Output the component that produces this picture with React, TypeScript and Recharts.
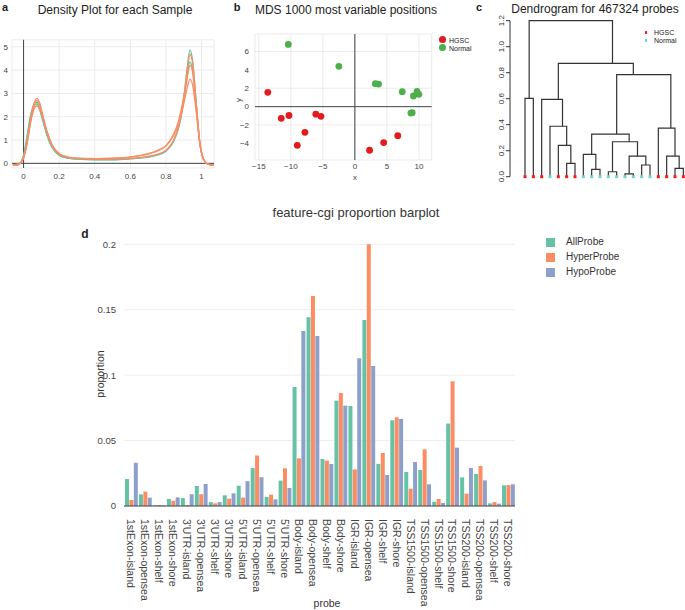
import React from 'react';
import {
  LineChart,
  Line,
  XAxis,
  YAxis,
  CartesianGrid,
  ReferenceLine,
  ScatterChart,
  Scatter,
  ComposedChart,
  BarChart,
  Bar,
} from 'recharts';

const FONT = '"Liberation Sans", Arial, Helvetica, sans-serif';

// ---- panel a: density per sample ----
const densX = [-0.06, -0.03, 0, 0.02, 0.04, 0.06, 0.075, 0.09, 0.11, 0.13, 0.16, 0.2, 0.25, 0.3, 0.4, 0.5, 0.6, 0.7, 0.75, 0.8, 0.84, 0.87, 0.9, 0.92, 0.935, 0.95, 0.97, 0.99, 1.01, 1.04, 1.07];
const normal1 = [-0.07, -0.05, 0.35, 1.2, 2.1, 2.55, 2.62, 2.35, 1.8, 1.25, 0.68, 0.34, 0.22, 0.18, 0.15, 0.15, 0.19, 0.27, 0.35, 0.52, 0.9, 1.5, 2.8, 4.15, 4.87, 4.4, 2.6, 0.9, 0.2, -0.04, -0.07];
const normal2 = [-0.07, -0.05, 0.3, 1.1, 2.0, 2.45, 2.55, 2.3, 1.78, 1.25, 0.7, 0.36, 0.23, 0.19, 0.16, 0.16, 0.2, 0.28, 0.36, 0.54, 0.92, 1.5, 2.65, 3.75, 4.35, 4.0, 2.5, 0.9, 0.2, -0.04, -0.07];
const hgsc1 = [-0.07, -0.05, 0.25, 0.95, 1.9, 2.6, 2.79, 2.6, 2.0, 1.4, 0.78, 0.4, 0.26, 0.21, 0.18, 0.18, 0.21, 0.3, 0.38, 0.56, 0.95, 1.55, 2.8, 4.0, 4.68, 4.3, 2.6, 0.95, 0.22, -0.04, -0.07];
const hgsc2 = [-0.07, -0.05, 0.22, 0.85, 1.75, 2.35, 2.46, 2.35, 1.9, 1.4, 0.8, 0.42, 0.27, 0.22, 0.2, 0.22, 0.28, 0.42, 0.55, 0.76, 1.2, 1.8, 2.85, 3.7, 4.2, 3.9, 2.4, 0.9, 0.2, -0.04, -0.07];
const hgsc3 = [-0.07, -0.05, 0.25, 0.9, 1.85, 2.5, 2.69, 2.5, 1.95, 1.38, 0.78, 0.4, 0.26, 0.21, 0.19, 0.21, 0.27, 0.4, 0.52, 0.74, 1.15, 1.65, 2.55, 3.25, 3.61, 3.35, 2.2, 0.85, 0.2, -0.04, -0.07];

// ---- panel b: MDS ----
const hgscX = [-13.6, -11.5, -10.3, -7.8, -9.0, -6.1, -5.3, 2.3, 4.5, 6.7];
const hgscY = [1.56, -1.27, -0.96, -2.79, -4.2, -0.82, -1.05, -4.74, -3.9, -3.15];
const normX = [-10.4, -2.5, 3.2, 3.7, 7.4, 9.7, 10.0, 9.15, 8.75, 8.95];
const normY = [6.77, 4.38, 2.5, 2.46, 1.63, 1.66, 1.34, 1.16, -0.7, -0.65];

// ---- panel c: dendrogram (hclust style merges, negative = leaf) ----
const leafGroups = ['HGSC', 'HGSC', 'HGSC', 'Normal', 'HGSC', 'HGSC', 'HGSC', 'Normal', 'Normal', 'Normal', 'Normal', 'Normal', 'Normal', 'Normal', 'Normal', 'Normal', 'HGSC', 'HGSC', 'HGSC', 'HGSC'];
const dendroMerges: [number, number, number][] = [
  [-6, -7, 0.103],
  [-5, 1, 0.241],
  [-4, 2, 0.388],
  [-3, 3, 0.595],
  [-1, -2, 0.603],
  [-9, -10, 0.057],
  [-8, 6, 0.172],
  [-11, -12, 0.038],
  [-13, -14, 0.021],
  [-15, -16, 0.09],
  [9, 10, 0.159],
  [8, 11, 0.269],
  [7, 12, 0.328],
  [-19, -20, 0.064],
  [-18, 14, 0.159],
  [-17, 15, 0.374],
  [13, 16, 0.785],
  [4, 17, 0.872],
  [5, 18, 1.2],
];

// ---- panel d: feature-cgi proportions ----
const probes = ['1stExon-island', '1stExon-opensea', '1stExon-shelf', '1stExon-shore', "3'UTR-island", "3'UTR-opensea", "3'UTR-shelf", "3'UTR-shore", "5'UTR-island", "5'UTR-opensea", "5'UTR-shelf", "5'UTR-shore", 'Body-island', 'Body-opensea', 'Body-shelf', 'Body-shore', 'IGR-island', 'IGR-opensea', 'IGR-shelf', 'IGR-shore', 'TSS1500-island', 'TSS1500-opensea', 'TSS1500-shelf', 'TSS1500-shore', 'TSS200-island', 'TSS200-opensea', 'TSS200-shelf', 'TSS200-shore'];
const allProbe = [0.0206, 0.0089, 0.0005, 0.0054, 0.0061, 0.0153, 0.003, 0.0082, 0.0155, 0.029, 0.0069, 0.0194, 0.091, 0.1442, 0.0359, 0.0805, 0.0764, 0.1422, 0.0322, 0.0655, 0.026, 0.0275, 0.0033, 0.063, 0.0219, 0.0245, 0.002, 0.0158];
const hyperProbe = [0.0046, 0.011, 0.0008, 0.004, 0.0008, 0.009, 0.002, 0.0056, 0.0064, 0.0385, 0.0087, 0.0288, 0.0364, 0.1605, 0.0347, 0.0864, 0.028, 0.2, 0.0405, 0.0678, 0.0132, 0.0433, 0.0054, 0.0953, 0.0094, 0.0306, 0.003, 0.016];
const hypoProbe = [0.033, 0.0064, 0.0005, 0.0066, 0.009, 0.0168, 0.003, 0.0097, 0.019, 0.022, 0.0051, 0.0138, 0.1338, 0.13, 0.0321, 0.0767, 0.1129, 0.107, 0.0237, 0.0665, 0.0336, 0.0166, 0.0023, 0.0446, 0.029, 0.0196, 0.0018, 0.0166];

const GREEN = '#66c2a5';
const ORANGE = '#fc8d62';
const BLUE = '#8da0cb';

const densRows = densX.map((x, i) => ({ x, n1: normal1[i], n2: normal2[i], h1: hgsc1[i], h2: hgsc2[i], h3: hgsc3[i] }));
const hgscPts = hgscX.map((x, i) => ({ x, y: hgscY[i] }));
const normPts = normX.map((x, i) => ({ x, y: normY[i] }));
const barRows = probes.map((probe, i) => ({ probe, all: allProbe[i], hyper: hyperProbe[i], hypo: hypoProbe[i] }));

// build dendrogram segments, node x = centre of its leaves
type DNode = { lo: number; hi: number; h: number };
const dNodes: DNode[] = [];
const nodeOf = (id: number): DNode => (id < 0 ? { lo: -id, hi: -id, h: 0 } : dNodes[id - 1]);
const dendroSegs = dendroMerges.map(([a, b, h]) => {
  const A = nodeOf(a);
  const B = nodeOf(b);
  dNodes.push({ lo: Math.min(A.lo, B.lo), hi: Math.max(A.hi, B.hi), h });
  const xa = (A.lo + A.hi) / 2;
  const xb = (B.lo + B.hi) / 2;
  return [
    { x: xa, y: A.h },
    { x: xa, y: h },
    { x: xb, y: h },
    { x: xb, y: B.h },
  ];
});
const leafRows = leafGroups.map((g, i) => ({ x: i + 1, y: 0, g }));

type TxtProps = { x: number; y: number; size: number; children: React.ReactNode; bold?: boolean; rotate?: number; color?: string; anchor?: 'start' | 'middle' };
const Txt = ({ x, y, size, children, bold, rotate = 0, color = '#222', anchor = 'middle' }: TxtProps) => (
  <div
    style={{
      position: 'absolute',
      left: x,
      top: y,
      fontSize: size,
      fontWeight: bold ? 'bold' : 'normal',
      color,
      lineHeight: 1,
      whiteSpace: 'nowrap',
      transform: `translate(${anchor === 'middle' ? '-50%' : '0'}, -50%) rotate(${rotate}deg)`,
      transformOrigin: anchor === 'middle' ? 'center' : 'left center',
    }}
  >
    {children}
  </div>
);

const ProbeTick = (props: any) => {
  const { x, y, payload } = props;
  return (
    <text x={x} y={y} dy="0.35em" transform={`rotate(90, ${x}, ${y})`} fontSize={10.5} fill="#444" fontFamily={FONT}>
      {payload.value}
    </text>
  );
};

const HeightTick = (props: any) => {
  const { x, y, payload } = props;
  return (
    <text x={x} y={y} transform={`rotate(-90, ${x}, ${y})`} textAnchor="middle" fontSize={8} fill="#333" fontFamily={FONT}>
      {Number(payload.value).toFixed(1)}
    </text>
  );
};

const LeafDot = (props: any) => {
  const { cx, cy, payload } = props;
  return <rect x={cx - 1.5} y={cy - 1.5} width={3} height={3} fill={payload.g === 'HGSC' ? '#ff1a1a' : '#6fd6cf'} />;
};

const minusFmt = (v: number) => (v < 0 ? '\u2212' + Math.abs(v) : String(v));
const tickStyle = { fontSize: 8, fill: '#444', fontFamily: FONT };

const App = () => {
  return (
    <div style={{ position: 'absolute', left: 0, top: 0, width: 685, height: 610, background: '#fff', fontFamily: FONT, overflow: 'hidden' }}>
      {/* panel a */}
      <div style={{ position: 'absolute', left: 0, top: 0 }}>
        <LineChart width={230} height={190} data={densRows} margin={{ top: 39.8, right: 16, bottom: 0, left: 0 }}>
          <CartesianGrid stroke="#ebebeb" />
          <XAxis type="number" dataKey="x" domain={[-0.065, 1.07]} ticks={[0, 0.2, 0.4, 0.6, 0.8, 1]} allowDataOverflow axisLine={false} tickLine={false} tickSize={0} tickMargin={5} height={22} tick={tickStyle} />
          <YAxis type="number" domain={[-0.2, 5.3]} ticks={[0, 1, 2, 3, 4, 5]} allowDataOverflow width={12} axisLine={false} tickLine={false} tickSize={0} tickMargin={4} tick={tickStyle} />
          <ReferenceLine x={0} stroke="#444" />
          <ReferenceLine y={0} stroke="#444" />
          <Line type="monotone" dataKey="n1" stroke={GREEN} strokeWidth={1.3} dot={false} isAnimationActive={false} />
          <Line type="monotone" dataKey="n2" stroke={GREEN} strokeWidth={1.3} dot={false} isAnimationActive={false} />
          <Line type="monotone" dataKey="h1" stroke={ORANGE} strokeWidth={1.3} dot={false} isAnimationActive={false} />
          <Line type="monotone" dataKey="h2" stroke={ORANGE} strokeWidth={1.3} dot={false} isAnimationActive={false} />
          <Line type="monotone" dataKey="h3" stroke={ORANGE} strokeWidth={1.3} dot={false} isAnimationActive={false} />
        </LineChart>
      </div>
      <Txt x={5} y={7} size={11} bold>a</Txt>
      <Txt x={115} y={10} size={12}>Density Plot for each Sample</Txt>

      {/* panel b */}
      <div style={{ position: 'absolute', left: 225, top: 0 }}>
        <ScatterChart width={230} height={190} margin={{ top: 34, right: 23.3, bottom: 0, left: 0 }}>
          <CartesianGrid stroke="#ebebeb" />
          <XAxis type="number" dataKey="x" domain={[-15.6, 12]} ticks={[-15, -10, -5, 0, 5, 10]} allowDataOverflow axisLine={false} tickLine={false} tickSize={0} tickMargin={3} height={30} tick={tickStyle} tickFormatter={minusFmt} />
          <YAxis type="number" dataKey="y" domain={[-5.8, 7.9]} ticks={[-4, -2, 0, 2, 4, 6]} allowDataOverflow width={30} axisLine={false} tickLine={false} tickSize={0} tickMargin={6} tick={tickStyle} tickFormatter={minusFmt} />
          <ReferenceLine x={0} stroke="#444" />
          <ReferenceLine y={0} stroke="#444" />
          <Scatter data={hgscPts} fill="#e41a1c" shape={(p: any) => <circle cx={p.cx} cy={p.cy} r={3.4} fill="#e41a1c" />} isAnimationActive={false} />
          <Scatter data={normPts} fill="#4daf4a" shape={(p: any) => <circle cx={p.cx} cy={p.cy} r={3.4} fill="#4daf4a" />} isAnimationActive={false} />
        </ScatterChart>
      </div>
      <Txt x={237} y={7} size={11} bold>b</Txt>
      <Txt x={346} y={10} size={12}>MDS 1000 most variable positions</Txt>
      <Txt x={355} y={178} size={8} color="#444">x</Txt>
      <Txt x={239} y={100} size={8} color="#444" rotate={-90}>y</Txt>
      <div style={{ position: 'absolute', left: 439, top: 36, width: 7, height: 7, borderRadius: 4, background: '#e41a1c' }} />
      <div style={{ position: 'absolute', left: 439, top: 44, width: 7, height: 7, borderRadius: 4, background: '#4daf4a' }} />
      <Txt x={449} y={39.5} size={7} anchor="start">HGSC</Txt>
      <Txt x={449} y={47.5} size={7} anchor="start">Normal</Txt>

      {/* panel c */}
      <div style={{ position: 'absolute', left: 455, top: 0 }}>
        <ComposedChart width={230} height={190} margin={{ top: 20.7, right: 0, bottom: 13.3, left: 0 }}>
          <XAxis type="number" dataKey="x" domain={[-0.8, 20.2]} hide allowDataOverflow />
          <YAxis type="number" domain={[0, 1.2]} ticks={[0, 0.2, 0.4, 0.6, 0.8, 1.0, 1.2]} width={55} axisLine={{ stroke: '#333' }} tickLine={{ stroke: '#333' }} tickSize={4} tickMargin={2} tick={<HeightTick />} />
          {dendroSegs.map((seg, i) => (
            <Line key={i} data={seg} dataKey="y" type="linear" stroke="#333" strokeWidth={1.2} dot={false} activeDot={false} isAnimationActive={false} />
          ))}
          <Scatter data={leafRows} dataKey="y" shape={<LeafDot />} isAnimationActive={false} />
        </ComposedChart>
      </div>
      <Txt x={479} y={7} size={11} bold>c</Txt>
      <Txt x={595} y={9} size={12}>Dendrogram for 467324 probes</Txt>
      <div style={{ position: 'absolute', left: 644.5, top: 31, width: 2.5, height: 2.5, background: '#ff1a1a' }} />
      <div style={{ position: 'absolute', left: 644.5, top: 39, width: 2.5, height: 2.5, background: '#6fd6cf' }} />
      <Txt x={654} y={32.3} size={7} anchor="start">HGSC</Txt>
      <Txt x={654} y={40.3} size={7} anchor="start">Normal</Txt>

      {/* panel d */}
      <div style={{ position: 'absolute', left: 0, top: 0 }}>
        <BarChart width={685} height={610} data={barRows} margin={{ top: 244.3, right: 170, bottom: 0, left: 0 }} barCategoryGap={1} barGap={0.4}>
          <CartesianGrid vertical={false} stroke="#eeeeee" />
          <XAxis dataKey="probe" interval={0} height={104} axisLine={{ stroke: '#444' }} tickLine={false} tickSize={0} tickMargin={13} tick={<ProbeTick />} />
          <YAxis type="number" domain={[0, 0.2]} ticks={[0, 0.05, 0.1, 0.15, 0.2]} width={124} axisLine={false} tickLine={false} tickSize={0} tickMargin={8} tick={{ fontSize: 9.5, fill: '#444', fontFamily: FONT }} />
          <Bar dataKey="all" fill={GREEN} isAnimationActive={false} />
          <Bar dataKey="hyper" fill={ORANGE} isAnimationActive={false} />
          <Bar dataKey="hypo" fill={BLUE} isAnimationActive={false} />
        </BarChart>
      </div>
      <Txt x={85} y={234} size={12} bold>d</Txt>
      <Txt x={356} y={212} size={13} color="#333">feature-cgi proportion barplot</Txt>
      <Txt x={100} y={374} size={10.5} color="#333" rotate={-90}>proportion</Txt>
      <Txt x={327} y={603} size={10.5} color="#333">probe</Txt>
      <div style={{ position: 'absolute', left: 545.5, top: 237.5, width: 9, height: 9, background: GREEN }} />
      <div style={{ position: 'absolute', left: 545.5, top: 252.5, width: 9, height: 9, background: ORANGE }} />
      <div style={{ position: 'absolute', left: 545.5, top: 267.5, width: 9, height: 9, background: BLUE }} />
      <Txt x={566} y={242} size={10} color="#333" anchor="start">AllProbe</Txt>
      <Txt x={566} y={257} size={10} color="#333" anchor="start">HyperProbe</Txt>
      <Txt x={566} y={272} size={10} color="#333" anchor="start">HypoProbe</Txt>
    </div>
  );
};

export default App;
